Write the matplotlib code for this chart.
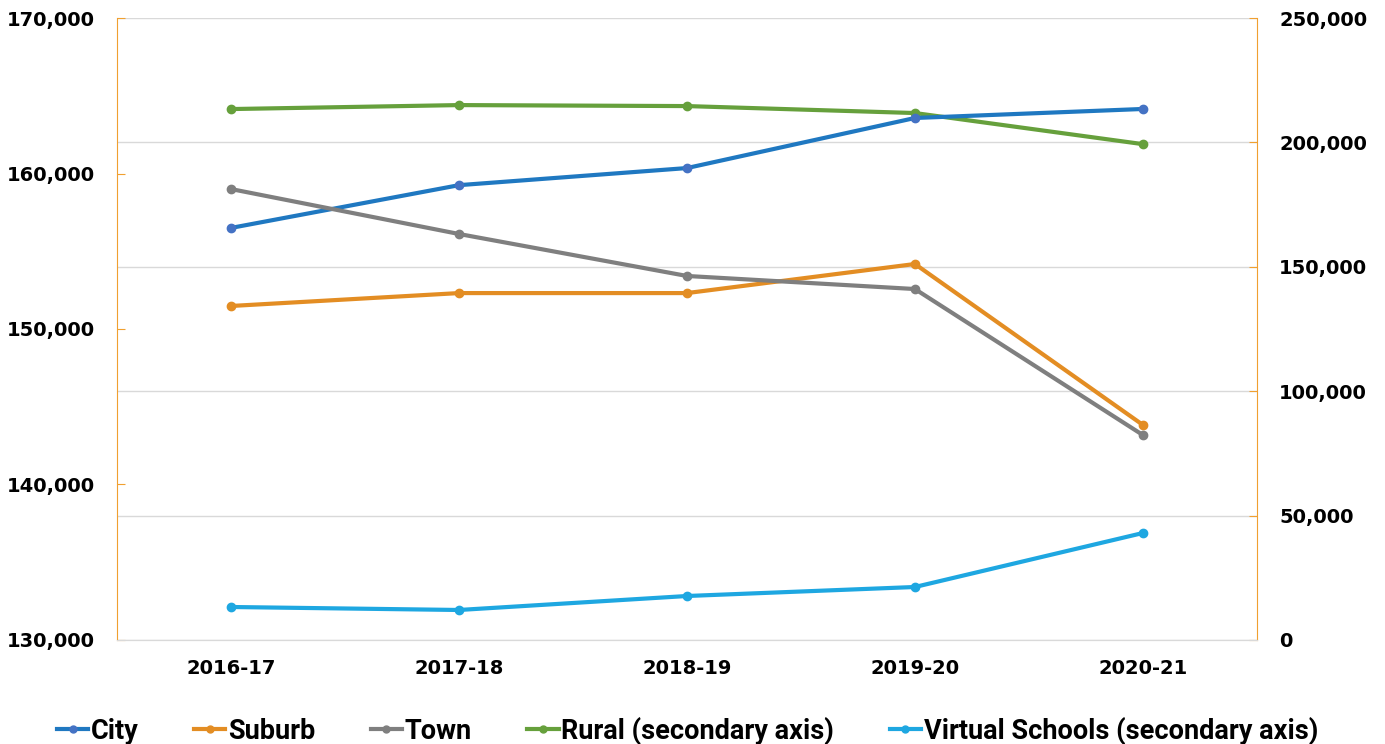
import matplotlib.pyplot as plt
from matplotlib.ticker import FuncFormatter, MultipleLocator

years = ["2016-17", "2017-18", "2018-19", "2019-20", "2020-21"]
city = [156500, 159250, 160350, 163570, 164150]
suburb = [151480, 152310, 152310, 154180, 143830]
town = [159000, 156110, 153410, 152570, 143180]
rural = [213400, 215000, 214600, 211800, 199300]
virtual = [13260, 12060, 17680, 21300, 43000]

plt.rcParams["font.family"] = "DejaVu Sans"
plt.rcParams["font.weight"] = "bold"

ORANGE_AX = "#F0A030"
fmt = FuncFormatter(lambda v, p: f"{int(v):,}")

fig = plt.figure(figsize=(13.85, 7.44), dpi=100)
ax = fig.add_axes([0.0845, 0.1398, 0.823, 0.836])
ax2 = ax.twinx()

x = range(len(years))
ax.plot(x, city, color="#1F78C1", lw=3, marker="o", ms=6, mfc="#4472C4", mec="#4472C4", label="City", zorder=3)
ax.plot(x, suburb, color="#E38D23", lw=3, marker="o", ms=6, label="Suburb", zorder=3)
ax.plot(x, town, color="#7F7F7F", lw=3, marker="o", ms=6, label="Town", zorder=3)
ax2.plot(x, rural, color="#66A03C", lw=3, marker="o", ms=6, label="Rural (secondary axis)", zorder=3)
ax2.plot(x, virtual, color="#1EA7E1", lw=3, marker="o", ms=6, label="Virtual Schools (secondary axis)", zorder=3)

ax.set_xlim(-0.5, 4.5)
ax.set_ylim(130000, 170000)
ax2.set_ylim(0, 250000)
ax.yaxis.set_major_locator(MultipleLocator(10000))
ax2.yaxis.set_major_locator(MultipleLocator(50000))
ax.yaxis.set_major_formatter(fmt)
ax2.yaxis.set_major_formatter(fmt)
ax.set_xticks(list(x))
ax.set_xticklabels(years)

# gridlines follow the secondary axis
ax2.grid(axis="y", color="#D9D9D9", lw=1)
ax2.set_axisbelow(True)
ax.set_zorder(ax2.get_zorder() + 1)
ax.patch.set_visible(False)

for a in (ax, ax2):
    a.spines["top"].set_visible(False)
    a.spines["bottom"].set_color("#D9D9D9")
    a.spines["left"].set_color(ORANGE_AX)
    a.spines["right"].set_color(ORANGE_AX)
ax.spines["right"].set_visible(False)
ax2.spines["left"].set_visible(False)

ax.tick_params(axis="y", direction="in", length=6, color=ORANGE_AX, pad=16, labelsize=14)
ax2.tick_params(axis="y", direction="in", length=6, color=ORANGE_AX, pad=16, labelsize=14)
ax.tick_params(axis="x", length=0, pad=14, labelsize=14)

h1, l1 = ax.get_legend_handles_labels()
h2, l2 = ax2.get_legend_handles_labels()
leg = fig.legend(h1 + h2, l1 + l2, loc="center", bbox_to_anchor=(0.4964, 13 / 744), ncol=5,
                 frameon=False, handlelength=1.15, handletextpad=0.1, columnspacing=2.05,
                 prop=dict(family="Roboto", weight="bold", size=19.5))
for line in leg.get_lines():
    line.set_markersize(5)

fig.savefig("out.png", dpi=100)
